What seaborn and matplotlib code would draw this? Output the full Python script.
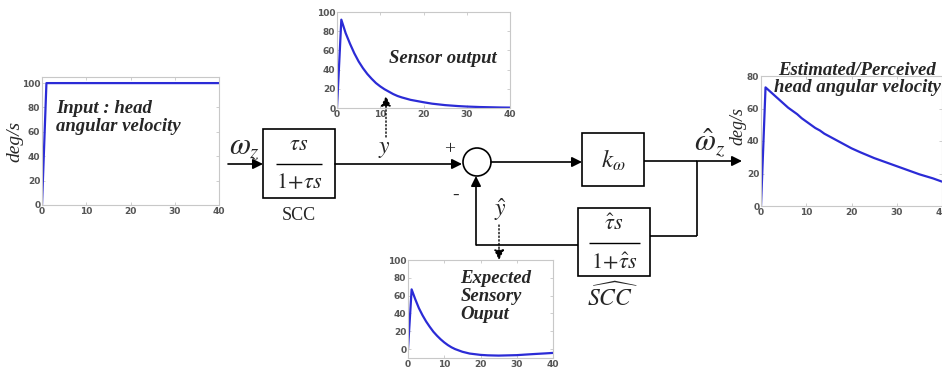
import numpy as np
import pandas as pd
import matplotlib
matplotlib.use("Agg")
import matplotlib.pyplot as plt
import seaborn as sns
from matplotlib.patches import Rectangle, Circle

# ---------------- data ----------------
t_input = [0, 1, 40]
input_vals = [0, 100, 100]

t_grid = [0, 1, 2, 3, 4, 5, 6, 7, 8, 9, 10, 11, 12, 13, 14, 15, 17, 20, 22, 25, 28, 30, 33, 35, 38, 40]
sensor_vals = [0, 92, 78, 67, 57, 48.5, 41.5, 35.5, 30.5, 26, 22.5, 19.5, 17, 14.5, 12.5, 11,
               8.5, 6, 4.5, 3, 2, 1.5, 1.0, 0.8, 0.5, 0.4]
estimated_vals = [0, 73, 70.5, 68, 65.5, 63, 60.5, 58.5, 56.5, 54, 52, 50, 48, 46.5, 44.5, 43,
                  40, 35.5, 33, 29.5, 26.5, 24.5, 21.5, 19.5, 17, 15]
expected_vals = [0, 67, 56, 46, 38, 31, 25, 19.5, 15, 11, 7.5, 4.5, 2, 0, -1.5, -3,
                 -5, -6.5, -7, -7.3, -7, -6.8, -6, -5.5, -4.8, -4.3]

x_ticks = [0, 10, 20, 30, 40]

sns.set_theme(style="white")
plt.rcParams['font.family'] = ['Liberation Serif', 'DejaVu Sans']
plt.rcParams['mathtext.fontset'] = 'stix'

W, H = 942, 373
fig = plt.figure(figsize=(W / 100, H / 100), dpi=100)
fig.patch.set_facecolor('white')

BLUE = '#2b2bd6'
LBL = 13.5


def add_px_axes(left, top, right, bottom):
    return fig.add_axes([left / W, 1 - bottom / H, (right - left) / W, (bottom - top) / H])


def style(ax, ylim, yticks):
    ax.set_xlim(0, 40)
    ax.set_ylim(*ylim)
    ax.set_xticks(x_ticks)
    ax.set_yticks(yticks)
    ax.tick_params(axis='both', direction='in', length=2, width=0.5, color='#bbbbbb',
                   labelsize=6.5, labelcolor='#555555', pad=1.2,
                   top=True, right=True, bottom=True, left=True)
    for lab in ax.get_xticklabels() + ax.get_yticklabels():
        lab.set_fontweight('bold')
        lab.set_family('DejaVu Sans')
    for s in ax.spines.values():
        s.set_color('#c8c8c8')
        s.set_linewidth(0.8)
    ax.set_xlabel('')
    ax.set_ylabel('')
    ax.set_facecolor('white')


# Input plot
ax1 = add_px_axes(42, 77, 219, 205)
sns.lineplot(x=t_input, y=input_vals, ax=ax1, color=BLUE, linewidth=1.6)
style(ax1, (0, 105), [0, 20, 40, 60, 80, 100])
ax1.text(0.08, 0.82, 'Input : head\nangular velocity', transform=ax1.transAxes,
         fontsize=LBL, fontweight='bold', fontstyle='italic', va='top', ha='left',
         linespacing=1.05)

# Sensor output plot
ax2 = add_px_axes(337, 12, 510, 108)
sns.lineplot(x=t_grid, y=sensor_vals, ax=ax2, color=BLUE, linewidth=1.6)
style(ax2, (0, 100), [0, 20, 40, 60, 80, 100])
ax2.text(0.30, 0.52, 'Sensor output', transform=ax2.transAxes,
         fontsize=LBL, fontweight='bold', fontstyle='italic', va='center', ha='left')

# Estimated plot
ax3 = add_px_axes(761, 76, 942, 206)
sns.lineplot(x=t_grid, y=estimated_vals, ax=ax3, color=BLUE, linewidth=1.6)
style(ax3, (0, 80), [0, 20, 40, 60, 80])

# Expected plot
ax4 = add_px_axes(408, 260, 553, 358)
sns.lineplot(x=t_grid, y=expected_vals, ax=ax4, color=BLUE, linewidth=1.6)
style(ax4, (-10, 100), [0, 20, 40, 60, 80, 100])
ax4.text(0.36, 0.90, 'Expected\nSensory\nOuput', transform=ax4.transAxes,
         fontsize=LBL, fontweight='bold', fontstyle='italic', va='top', ha='left',
         linespacing=1.1)

# ---------------- diagram overlay ----------------
ov = fig.add_axes([0, 0, 1, 1], zorder=10)
ov.set_xlim(0, W)
ov.set_ylim(H, 0)
ov.axis('off')
ov.patch.set_alpha(0)


def arrow(x0, y0, x1, y1, ls='-', ms=15, lw=1.2):
    ov.annotate('', xy=(x1, y1), xytext=(x0, y0),
                arrowprops=dict(arrowstyle='-|>', color='black', lw=lw, linestyle=ls,
                                mutation_scale=ms, shrinkA=0, shrinkB=0))


def line(xs, ys, lw=1.2):
    ov.plot(xs, ys, color='black', lw=lw, solid_capstyle='butt')


# y-labels
ov.text(15, 141, 'deg/s', rotation=90, fontsize=14, fontstyle='italic', ha='center', va='center')
ov.text(738, 126, 'deg/s', rotation=90, fontsize=13, fontstyle='italic', ha='center', va='center')
ov.text(857, 79, 'Estimated/Perceived\nhead angular velocity', fontsize=LBL,
        fontweight='bold', fontstyle='italic', ha='center', va='center', linespacing=1.0)

# omega_z input
ov.text(245, 148, r'$\omega_z$', fontsize=22, ha='center', va='center')
arrow(228, 164, 263, 164)

# SCC box
ov.add_patch(Rectangle((263, 129), 72, 69, fill=False, ec='black', lw=1.2))
ov.text(299, 145, r'$\tau s$', fontsize=16, ha='center', va='center')
line([276, 322], [164, 164], lw=1.0)
ov.text(299, 183, r'$1\!+\!\tau s$', fontsize=16, ha='center', va='center')
ov.text(299, 215, 'SCC', fontsize=13, ha='center', va='center')

# y signal to sum
arrow(335, 164, 462, 164)
ov.text(384, 150, r'$y$', fontsize=17, ha='center', va='center')
ov.text(450, 150, '+', fontsize=14, ha='center', va='center')
ov.text(456, 195, '-', fontsize=14, ha='center', va='center')
# dotted to sensor plot
arrow(386, 137, 386, 96, ls=':', ms=15, lw=1.0)

# summing junction
ov.add_patch(Circle((477, 162), 14, fill=False, ec='black', lw=1.2))

# to k box
arrow(491, 162, 582, 162)
ov.add_patch(Rectangle((582, 133), 62, 53, fill=False, ec='black', lw=1.2))
ov.text(613, 160, r'$k_{\omega}$', fontsize=18, ha='center', va='center')

# output
line([644, 697], [161, 161])
arrow(697, 161, 742, 161)
ov.text(710, 143, r'$\hat{\omega}_z$', fontsize=22, ha='center', va='center')
line([697, 697], [161, 236])
line([650, 697], [236, 236])

# SCC-hat box
ov.add_patch(Rectangle((578, 208), 72, 68, fill=False, ec='black', lw=1.2))
ov.text(614, 225, r'$\hat{\tau} s$', fontsize=16, ha='center', va='center')
line([589, 640], [243, 243], lw=1.0)
ov.text(614, 263, r'$1\!+\!\hat{\tau} s$', fontsize=16, ha='center', va='center')
ov.text(613, 297, r'$\widehat{SCC}$', fontsize=17, ha='center', va='center')

# feedback
line([476, 578], [245, 245])
arrow(476, 245, 476, 176)
ov.text(500, 210, r'$\hat{y}$', fontsize=17, ha='center', va='center')
arrow(499, 225, 499, 260, ls=':', ms=15, lw=1.0)

fig.savefig('out.png', dpi=100, facecolor='white')
